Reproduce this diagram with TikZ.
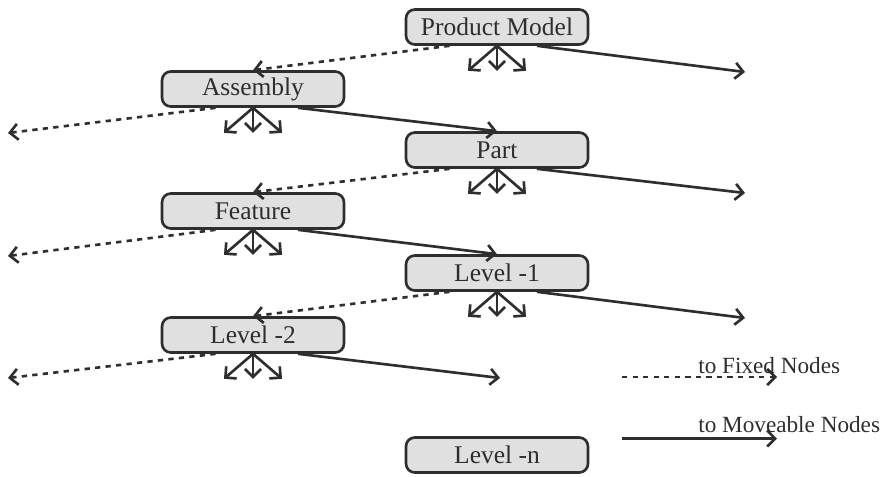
\documentclass[tikz,border=0pt]{standalone}
\usepackage{fontspec}
\setmainfont{Liberation Serif}
\usepackage{xcolor}
\usetikzlibrary{arrows.meta}
\definecolor{boxgray}{HTML}{E0E0E0}
\definecolor{inkgray}{HTML}{2E2E2E}

\begin{document}
\begin{tikzpicture}[
    lvlbox/.style={draw=inkgray, line width=1.5pt, rounded corners=5pt, fill=boxgray,
        minimum width=3.64cm, minimum height=0.7cm, inner sep=0pt,
        font=\fontsize{14.5}{16}\selectfont, text=inkgray},
    moveable/.style={draw=inkgray, line width=1.5pt, -{Straight Barb[length=1.6mm,width=3.2mm]}},
    fixed/.style={moveable, dash pattern=on 3pt off 3pt},
    legend/.style={font=\fontsize{13.2}{15}\selectfont, text=inkgray, anchor=base west, inner sep=0pt}
]
    \useasboundingbox (0,0) rectangle (17.72,-9.52);

    % ========== Levels of the model ==========
    \node[lvlbox] (pm)   at (9.94,-0.54) {Product Model};
    \node[lvlbox] (asm)  at (5.06,-1.78) {Assembly};
    \node[lvlbox] (part) at (9.94,-3.00) {Part};
    \node[lvlbox] (feat) at (5.06,-4.22) {Feature};
    \node[lvlbox] (lv1)  at (9.94,-5.46) {Level -1};
    \node[lvlbox] (lv2)  at (5.06,-6.70) {Level -2};
    \node[lvlbox] (lvn)  at (9.94,-9.10) {Level -n};

    % Free ends
    \coordinate (pmR)   at (14.90,-1.44);
    \coordinate (asmL)  at (0.16,-2.66);
    \coordinate (partR) at (14.90,-3.86);
    \coordinate (featL) at (0.16,-5.12);
    \coordinate (lv1R)  at (14.90,-6.36);
    \coordinate (lv2L)  at (0.16,-7.56);
    \coordinate (lv2R)  at (10.00,-7.56);

    % ========== Fixed (dashed) and moveable (solid) links ==========
    \draw[fixed]    ([xshift=-0.95cm]pm.south) -- (asm.north);
    \draw[moveable] ([xshift=0.8cm]pm.south) -- (pmR);

    \draw[fixed]    ([xshift=-0.75cm]asm.south) -- (asmL);
    \draw[moveable] ([xshift=0.9cm]asm.south) -- (part.north);

    \draw[fixed]    ([xshift=-0.95cm]part.south) -- (feat.north);
    \draw[moveable] ([xshift=0.8cm]part.south) -- (partR);

    \draw[fixed]    ([xshift=-0.75cm]feat.south) -- (featL);
    \draw[moveable] ([xshift=0.9cm]feat.south) -- (lv1.north);

    \draw[fixed]    ([xshift=-0.95cm]lv1.south) -- (lv2.north);
    \draw[moveable] ([xshift=0.8cm]lv1.south) -- (lv1R);

    \draw[fixed]    ([xshift=-0.75cm]lv2.south) -- (lv2L);
    \draw[moveable] ([xshift=0.9cm]lv2.south) -- (lv2R);

    % Branches below each level
    \foreach \n in {pm,asm,part,feat,lv1,lv2}
        \foreach \dx in {-0.58,0,0.58}
            \draw[moveable] (\n.south) -- ++(\dx,-0.5);

    % ========== Legend ==========
    \coordinate (fixA) at (12.44,-7.54);
    \coordinate (fixB) at (15.54,-7.54);
    \coordinate (movA) at (12.44,-8.77);
    \coordinate (movB) at (15.54,-8.77);
    \draw[fixed]    (fixA) -- (fixB);
    \draw[moveable] (movA) -- (movB);
    \node[legend] (fixlbl) at (13.96,-7.46) {to Fixed Nodes};
    \node[legend] (movlbl) at (13.96,-8.64) {to Moveable Nodes};
\end{tikzpicture}
\end{document}
